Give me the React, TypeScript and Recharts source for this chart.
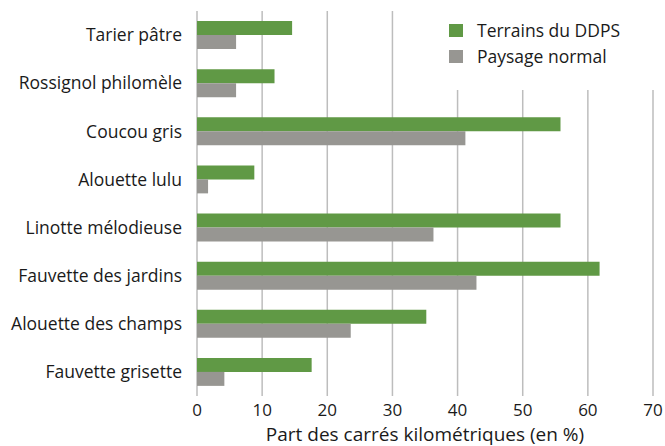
import { BarChart, Bar, XAxis, YAxis, CartesianGrid, Legend } from 'recharts'

const species = [
  'Tarier pâtre',
  'Rossignol philomèle',
  'Coucou gris',
  'Alouette lulu',
  'Linotte mélodieuse',
  'Fauvette des jardins',
  'Alouette des champs',
  'Fauvette grisette',
]
const ddps = [14.6, 11.9, 55.8, 8.8, 55.8, 61.8, 35.2, 17.6]
const normal = [6.0, 6.0, 41.2, 1.7, 36.3, 42.9, 23.6, 4.2]
const xTicks = [0, 10, 20, 30, 40, 50, 60, 70]

const GREEN = '#609945'
const GREY = '#979692'
const FONT = '"Open Sans", sans-serif'

const data = species.map((name, i) => ({ name, ddps: ddps[i], normal: normal[i] }))

function LegendBox() {
  const items = [
    { label: 'Terrains du DDPS', color: GREEN },
    { label: 'Paysage normal', color: GREY },
  ]
  return (
    <div style={{ background: '#fff', padding: '17px 0 21px 9px', width: 216, fontFamily: FONT }}>
      {items.map((it) => (
        <div key={it.label} style={{ display: 'flex', alignItems: 'center', height: 26 }}>
          <span style={{ width: 14, height: 13, background: it.color, display: 'inline-block' }} />
          <span style={{ marginLeft: 14, fontSize: 17.5, color: '#1a1a1a' }}>{it.label}</span>
        </div>
      ))}
    </div>
  )
}

export default function App() {
  return (
    <div style={{ position: 'absolute', left: 0, top: 0, background: '#fff' }}>
      <BarChart
        width={665}
        height={446}
        data={data}
        layout="vertical"
        margin={{ top: 11, right: 12, bottom: 0, left: 0 }}
        barSize={14}
        barGap={0}
      >
        <CartesianGrid horizontal={false} stroke="#bdbdbd" strokeWidth={1.5} />
        <XAxis
          type="number"
          domain={[0, 70]}
          ticks={xTicks}
          axisLine={false}
          tickLine={false}
          tickSize={0}
          tickMargin={8}
          height={50}
          tick={{ fontSize: 17, fill: '#1a1a1a', fontFamily: FONT }}
          label={{
            value: 'Part des carrés kilométriques (en %)',
            position: 'insideBottom',
            offset: 5,
            fontSize: 19,
            fill: '#1a1a1a',
            fontFamily: FONT,
          }}
        />
        <YAxis
          type="category"
          dataKey="name"
          width={197}
          axisLine={false}
          tickLine={false}
          tickSize={0}
          tickMargin={15}
          interval={0}
          tick={{ fontSize: 17.5, fill: '#1a1a1a', fontFamily: FONT }}
        />
        <Legend
          layout="horizontal"
          verticalAlign="middle"
          align="center"
          wrapperStyle={{ top: 0, left: 440, width: 'auto' }}
          content={() => <LegendBox />}
        />
        <Bar dataKey="ddps" name="Terrains du DDPS" fill={GREEN} isAnimationActive={false} />
        <Bar dataKey="normal" name="Paysage normal" fill={GREY} isAnimationActive={false} />
      </BarChart>
    </div>
  )
}
